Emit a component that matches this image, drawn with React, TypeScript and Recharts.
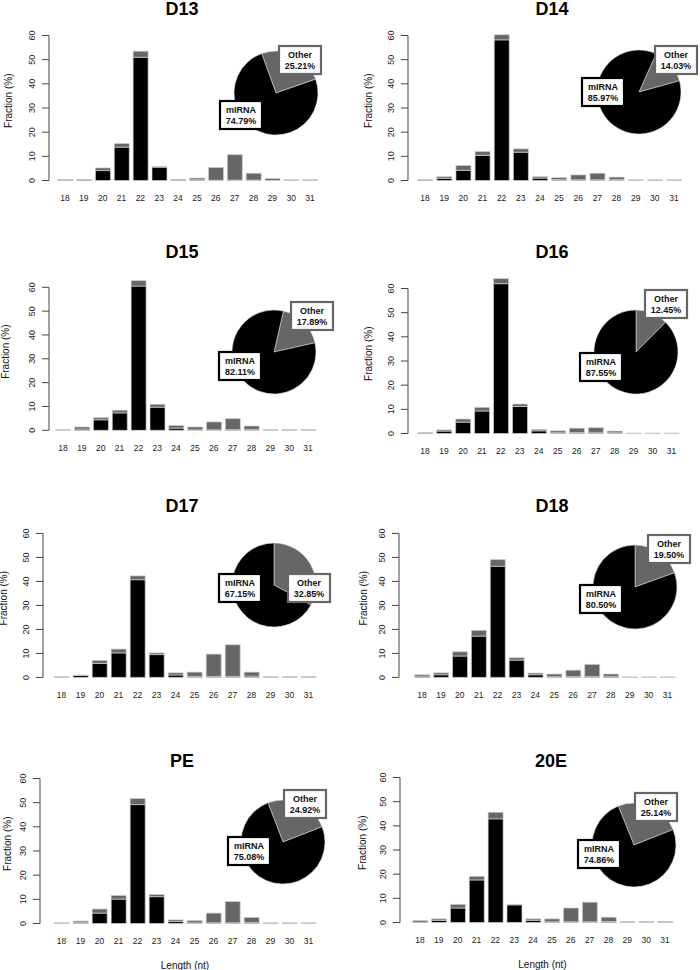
import { BarChart, Bar, XAxis, YAxis, ReferenceLine, PieChart, Pie, Cell } from 'recharts';

const FONT = '"Liberation Sans", Arial, Helvetica, sans-serif';
const GREY = '#666666';

// read lengths (nt)
const LENGTHS = ['18', '19', '20', '21', '22', '23', '24', '25', '26', '27', '28', '29', '30', '31'];
const SAMPLES = ['D13', 'D14', 'D15', 'D16', 'D17', 'D18', 'PE', '20E'];

// fraction (%) per length, miRNA part (black) and other part (grey)
const d13Mirna = [0.3, 0.4, 4.1, 13.8, 51.0, 5.5, 0.3, 0.3, 0.1, 0.2, 0.2, 0, 0, 0];
const d13Other = [0.1, 0.1, 1.1, 1.5, 2.5, 0.3, 0.2, 0.7, 5.3, 10.5, 2.8, 0.8, 0.3, 0.3];
const d14Mirna = [0.3, 0.9, 4.2, 10.4, 58.2, 11.7, 1.0, 0.4, 0.3, 0.3, 0.4, 0, 0, 0];
const d14Other = [0, 0.7, 2.0, 1.6, 2.1, 1.4, 0.6, 0.8, 2.0, 2.7, 1.0, 0.3, 0.3, 0.3];
const d15Mirna = [0, 0.5, 4.4, 7.3, 60.5, 9.7, 0.9, 0.2, 0.2, 0.3, 0.4, 0, 0, 0];
const d15Other = [0.3, 0.9, 0.9, 1.1, 2.3, 1.2, 1.1, 1.2, 3.3, 4.6, 1.4, 0.3, 0.3, 0.3];
const d16Mirna = [0.3, 1.0, 4.7, 9.3, 62.0, 11.2, 1.1, 0.3, 0.4, 0.5, 0.3, 0, 0, 0];
const d16Other = [0, 0.5, 1.3, 1.5, 2.1, 1.0, 0.6, 0.8, 1.8, 1.9, 0.7, 0.2, 0.2, 0.2];
const d17Mirna = [0, 0.8, 5.8, 10.2, 40.7, 9.5, 1.0, 0.4, 0.4, 0.4, 0.5, 0, 0, 0];
const d17Other = [0.3, 0.2, 1.3, 1.6, 1.6, 0.7, 0.9, 1.8, 9.3, 13.2, 1.7, 0.3, 0.3, 0.3];
const d18Mirna = [0.5, 1.1, 8.9, 17.2, 46.3, 7.2, 1.1, 0.3, 0.4, 0.4, 0.4, 0, 0, 0];
const d18Other = [0.6, 0.8, 1.8, 2.4, 2.8, 1.0, 0.7, 1.1, 2.6, 5.0, 1.0, 0.2, 0.2, 0.2];
const peMirna = [0, 0.4, 4.3, 10.1, 49.2, 11.1, 0.8, 0.3, 0.3, 0.3, 0.4, 0, 0, 0];
const peOther = [0.3, 0.6, 1.7, 1.5, 2.5, 0.9, 0.7, 0.9, 4.0, 8.8, 2.1, 0.3, 0.3, 0.3];
const e20Mirna = [0.1, 0.9, 6.0, 17.6, 42.9, 7.3, 0.9, 0.3, 0.3, 0.3, 0.4, 0, 0, 0];
const e20Other = [0.7, 0.6, 1.5, 1.5, 2.7, 0.2, 0.6, 1.2, 5.7, 8.1, 1.8, 0.4, 0.4, 0.4];

const MIRNA = [d13Mirna, d14Mirna, d15Mirna, d16Mirna, d17Mirna, d18Mirna, peMirna, e20Mirna];
const OTHER = [d13Other, d14Other, d15Other, d16Other, d17Other, d18Other, peOther, e20Other];

// pie shares (%)
const pieOther = [25.21, 14.03, 17.89, 12.45, 32.85, 19.5, 24.92, 25.14];
const pieMirna = [74.79, 85.97, 82.11, 87.55, 67.15, 80.5, 75.08, 74.86];

const Y_TICKS = [0, 10, 20, 30, 40, 50, 60];
const Y_MAX = 66;
const Y_AXIS_W = 30;
const TOP_M = 4;

// panel placement: y axis x, pixel rows of 60 and 0, first/last bar centres, title, pie centre & rotation, box offsets
const layout = [
  { col: 0, axis: 49, y60: 35, y0: 180, first: 65, last: 310, title: [182, 15], pie: [276, 93], rot: -20, oBox: [24, -33], mBox: [-35, 22], ylab: -41 },
  { col: 350, axis: 408, y60: 35, y0: 180, first: 425, last: 674, title: [552, 15], pie: [639, 92], rot: 24, oBox: [37, -32], mBox: [-36, 0], ylab: -40 },
  { col: 0, axis: 49, y60: 287, y0: 430, first: 63, last: 308, title: [182, 258], pie: [274, 352], rot: 13, oBox: [38, -36], mBox: [-34, 14], ylab: -43 },
  { col: 350, axis: 408, y60: 288, y0: 433, first: 425, last: 671.5, title: [552, 258], pie: [636, 352], rot: 0, oBox: [30, -48], mBox: [-35, 15], ylab: -40 },
  { col: 0, axis: 43, y60: 533, y0: 677, first: 61.5, last: 308.5, title: [182, 512], pie: [274, 585], rot: 0, oBox: [35, 3], mBox: [-34, 3], ylab: -39 },
  { col: 350, axis: 399, y60: 533, y0: 677, first: 422, last: 667.5, title: [552, 512], pie: [635, 587], rot: 0, oBox: [34, -38], mBox: [-34, 12], ylab: -35 },
  { col: 0, axis: 40, y60: 778, y0: 923, first: 61.5, last: 308.5, title: [182, 767], pie: [283, 842], rot: -21, oBox: [22, -38], mBox: [-34, 9], ylab: -33 },
  { col: 350, axis: 400, y60: 777, y0: 922, first: 420, last: 665, title: [551, 767], pie: [634, 845], rot: -22, oBox: [22, -38], mBox: [-35, 9], ylab: -37.5 },
];

const YTick = (props: any) => {
  const { x, y, payload } = props;
  return (
    <text x={x} y={y} transform={`rotate(-90 ${x} ${y})`} textAnchor="middle" fontSize={9} fontFamily={FONT} fill="#222">
      {payload.value}
    </text>
  );
};

function LabelBox({ x, y, lines, border }: { x: number; y: number; lines: string[]; border: string }) {
  const w = 42, h = 28;
  return (
    <g>
      <rect x={x - w / 2} y={y - h / 2} width={w} height={h} fill="#fff" stroke={border} strokeWidth={2.2} />
      <text x={x} y={y - 2} textAnchor="middle" fontSize={9} fontWeight="bold" fontFamily={FONT} fill="#111">{lines[0]}</text>
      <text x={x} y={y + 9} textAnchor="middle" fontSize={9} fontWeight="bold" fontFamily={FONT} fill="#111">{lines[1]}</text>
    </g>
  );
}

function Panel({ i }: { i: number }) {
  const L = layout[i];
  const rows = LENGTHS.map((len, k) => ({ len, mirna: MIRNA[i][k], other: OTHER[i][k] }));
  const step = (L.last - L.first) / 13;
  const pad = L.first - step / 2 - L.axis;
  const plotRight = L.last + step / 2 + pad;
  const pxPerUnit = (L.y0 - L.y60) / 60;
  const plotTop = L.y0 - Y_MAX * pxPerUnit;
  const bottomRow = i >= 6;
  const xAxisH = bottomRow ? 52 : 30;
  const top = plotTop - TOP_M;
  const height = L.y0 - top + xAxisH;
  const margin = { top: TOP_M, right: L.col + 350 - plotRight, bottom: 0, left: L.axis - L.col - Y_AXIS_W };

  const pieData = [
    { name: 'Other', value: pieOther[i] },
    { name: 'mIRNA', value: pieMirna[i] },
  ];
  const start = 90 - L.rot;

  const renderBox = (p: any) => {
    const c = 80;
    if (p.index === 0) {
      return <LabelBox key="o" x={c + L.oBox[0]} y={c + L.oBox[1]} lines={['Other', pieOther[i].toFixed(2) + '%']} border={GREY} />;
    }
    return <LabelBox key="m" x={c + L.mBox[0]} y={c + L.mBox[1]} lines={['mIRNA', pieMirna[i].toFixed(2) + '%']} border="#000" />;
  };

  return (
    <>
      <div style={{ position: 'absolute', left: L.col, top }}>
        <BarChart width={350} height={height} data={rows} margin={margin} barCategoryGap="11.5%">
          <XAxis
            dataKey="len"
            interval={0}
            padding={{ left: pad, right: pad }}
            axisLine={false}
            tickLine={false}
            tickSize={0}
            tickMargin={14.5}
            height={xAxisH}
            tick={{ fontSize: 8.5, fill: '#222', fontFamily: FONT }}
            label={bottomRow ? (p: any) => {
              const vb = p.viewBox;
              return (
                <text x={vb.x + vb.width / 2} y={vb.y + 42} textAnchor="middle" dominantBaseline="central" fontSize={10} fontFamily={FONT} fill="#111">
                  Length (nt)
                </text>
              );
            } : undefined}
          />
          <XAxis xAxisId="n" type="number" domain={[0, 1]} hide />
          <YAxis
            width={Y_AXIS_W}
            domain={[0, Y_MAX]}
            ticks={Y_TICKS}
            axisLine={false}
            tickLine={{ stroke: '#444' }}
            tickSize={7}
            tickMargin={7}
            tick={<YTick />}
            label={(p: any) => {
              const vb = p.viewBox;
              const x = vb.x + vb.width + L.ylab;
              const y = vb.y + vb.height / 2;
              return (
                <text x={x} y={y} transform={`rotate(-90 ${x} ${y})`} textAnchor="middle" dominantBaseline="central" fontSize={10} fontFamily={FONT} fill="#111">
                  Fraction (%)
                </text>
              );
            }}
          />
          <ReferenceLine xAxisId="n" segment={[{ x: 0, y: 0 }, { x: 0, y: 60 }]} stroke="#444" strokeWidth={1} ifOverflow="visible" />
          <Bar dataKey="mirna" stackId="s" fill="#000" stroke="#cfcfcf" strokeWidth={0.7} isAnimationActive={false} />
          <Bar dataKey="other" stackId="s" fill={GREY} stroke="#cfcfcf" strokeWidth={0.7} isAnimationActive={false} />
        </BarChart>
      </div>
      <div style={{ position: 'absolute', left: L.pie[0] - 80, top: L.pie[1] - 80 }}>
        <PieChart width={160} height={160} margin={{ top: 0, right: 0, bottom: 0, left: 0 }}>
          <Pie
            data={pieData}
            dataKey="value"
            cx="50%"
            cy="50%"
            outerRadius={42}
            startAngle={start}
            endAngle={start - 360}
            stroke="#d8d8d8"
            strokeWidth={0.6}
            labelLine={false}
            label={renderBox}
            isAnimationActive={false}
          >
            <Cell fill={GREY} />
            <Cell fill="#000" />
          </Pie>
        </PieChart>
      </div>
    </>
  );
}

export default function App() {
  return (
    <div style={{ position: 'absolute', left: 0, top: 0, width: 700, height: 970, background: '#fff', fontFamily: FONT }}>
      {SAMPLES.map((s, i) => (
        <Panel key={s} i={i} />
      ))}
      <svg width={700} height={970} style={{ position: 'absolute', left: 0, top: 0, pointerEvents: 'none' }}>
        {SAMPLES.map((s, i) => (
          <text key={s} x={layout[i].title[0]} y={layout[i].title[1]} textAnchor="middle" fontSize={18} fontWeight="bold" fontFamily={FONT} fill="#000">
            {s}
          </text>
        ))}
      </svg>
    </div>
  );
}
